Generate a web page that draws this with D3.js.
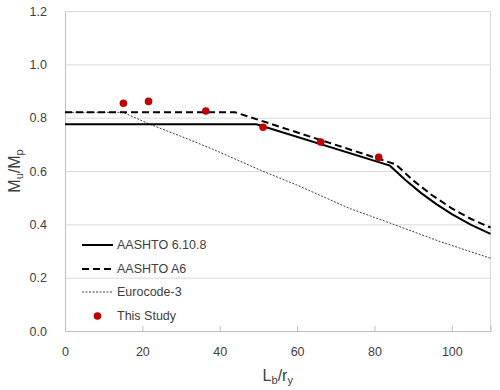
<!DOCTYPE html>
<html><head><meta charset="utf-8">
<script src="https://cdn.jsdelivr.net/npm/d3@7"></script>
<style>
html,body{margin:0;padding:0;background:#fff;}
text{font-family:"Liberation Sans",Arial,sans-serif;fill:#404040;}
</style></head>
<body><svg id="c" width="500" height="390"></svg>
<script>
// Data (x = Lb/ry, y = Mu/Mp)
const aashto6108 = [[0,0.775],[49.5,0.775],[84,0.62],[88,0.566],[92,0.518],[96,0.476],[100,0.438],[105,0.398],[110,0.364]];
const aashtoA6   = [[0,0.82],[44,0.82],[85.5,0.625],[90,0.565],[95,0.508],[100,0.46],[105,0.42],[110,0.388]];
const eurocode3  = [[0,0.82],[15,0.82],[22,0.775],[30,0.73],[38.5,0.68],[51,0.6],[60,0.547],[73.5,0.46],[84,0.405],[97,0.335],[110,0.273]];
const thisStudy  = [[15.1,0.854],[21.6,0.861],[36.4,0.825],[51.2,0.764],[66.1,0.709],[81.1,0.651]];
const xTicks = [0,20,40,60,80,100];
const yTicks = [0,0.2,0.4,0.6,0.8,1.0,1.2];
const legendNames = ["AASHTO 6.10.8","AASHTO A6","Eurocode-3","This Study"];

const L=65, R=490.5, T=11, B=331;
const svg = d3.select("#c");
const x = d3.scaleLinear().domain([0,110]).range([L,R]);
const y = d3.scaleLinear().domain([0,1.2]).range([B,T]);

// gridlines
svg.append("g").selectAll("line").data(yTicks.filter(d=>d>0)).join("line")
  .attr("x1",L).attr("x2",R).attr("y1",d=>y(d)+0.5).attr("y2",d=>y(d)+0.5)
  .attr("stroke","#d9d9d9").attr("stroke-width",1);
// right border
svg.append("line").attr("x1",R).attr("x2",R).attr("y1",T).attr("y2",B)
  .attr("stroke","#d9d9d9");

// y axis
const ya = svg.append("g").attr("transform",`translate(${L},0)`)
  .call(d3.axisLeft(y).tickValues(yTicks).tickFormat(d3.format(".1f")).tickSize(0).tickPadding(18));
ya.select(".domain").attr("stroke","#bfbfbf");
ya.selectAll("text").attr("font-size",12.5).attr("fill","#404040").style("font-family","Liberation Sans, Arial, sans-serif");

// x axis
const xa = svg.append("g").attr("transform",`translate(0,${B})`)
  .call(d3.axisBottom(x).tickValues(xTicks).tickSize(-5).tickPadding(16));
xa.select(".domain").attr("stroke","#bfbfbf");
xa.selectAll(".tick line").attr("stroke","#bfbfbf");
xa.selectAll("text").attr("font-size",12.5).attr("fill","#404040").style("font-family","Liberation Sans, Arial, sans-serif");

// axis titles
const xt = svg.append("text").attr("x",x(55)).attr("y",381).attr("text-anchor","middle").attr("font-size",16);
xt.append("tspan").text("L");
xt.append("tspan").attr("dy",3).attr("font-size",11).text("b");
xt.append("tspan").attr("dy",-3).text("/r");
xt.append("tspan").attr("dy",3).attr("font-size",11).text("y");

const yt = svg.append("text").attr("transform",`translate(20,${y(0.6)}) rotate(-90)`).attr("text-anchor","middle").attr("font-size",16);
yt.append("tspan").text("M");
yt.append("tspan").attr("dy",3).attr("font-size",11).text("u");
yt.append("tspan").attr("dy",-3).text("/M");
yt.append("tspan").attr("dy",3).attr("font-size",11).text("p");

// lines
const line = d3.line().x(d=>x(d[0])).y(d=>y(d[1]));
svg.append("path").datum(eurocode3).attr("d",line).attr("fill","none")
  .attr("stroke","#404040").attr("stroke-width",1).attr("stroke-dasharray","2,1.5");
svg.append("path").datum(aashto6108).attr("d",line).attr("fill","none")
  .attr("stroke","#000").attr("stroke-width",2);
svg.append("path").datum(aashtoA6).attr("d",line).attr("fill","none")
  .attr("stroke","#000").attr("stroke-width",2).attr("stroke-dasharray","7,4");
svg.append("g").selectAll("circle").data(thisStudy).join("circle")
  .attr("cx",d=>x(d[0])).attr("cy",d=>y(d[1])).attr("r",3.8).attr("fill","#c00000");

// legend
const lg = svg.append("g");
const rows = [245,269,292,316];
const styles = [
  {w:2,da:null,c:"#000"},
  {w:2,da:"7,4",c:"#000"},
  {w:1,da:"2,1.5",c:"#404040"},
  null];
legendNames.forEach((n,i)=>{
  const s = styles[i];
  if (s) {
    lg.append("line").attr("x1",82).attr("x2",113).attr("y1",rows[i]).attr("y2",rows[i])
      .attr("stroke",s.c).attr("stroke-width",s.w).attr("stroke-dasharray",s.da);
  } else {
    lg.append("circle").attr("cx",97.5).attr("cy",rows[i]).attr("r",3.8).attr("fill","#c00000");
  }
  lg.append("text").attr("x",117).attr("y",rows[i]).attr("dy","0.35em").attr("font-size",12.5).text(n);
});
</script></body></html>
